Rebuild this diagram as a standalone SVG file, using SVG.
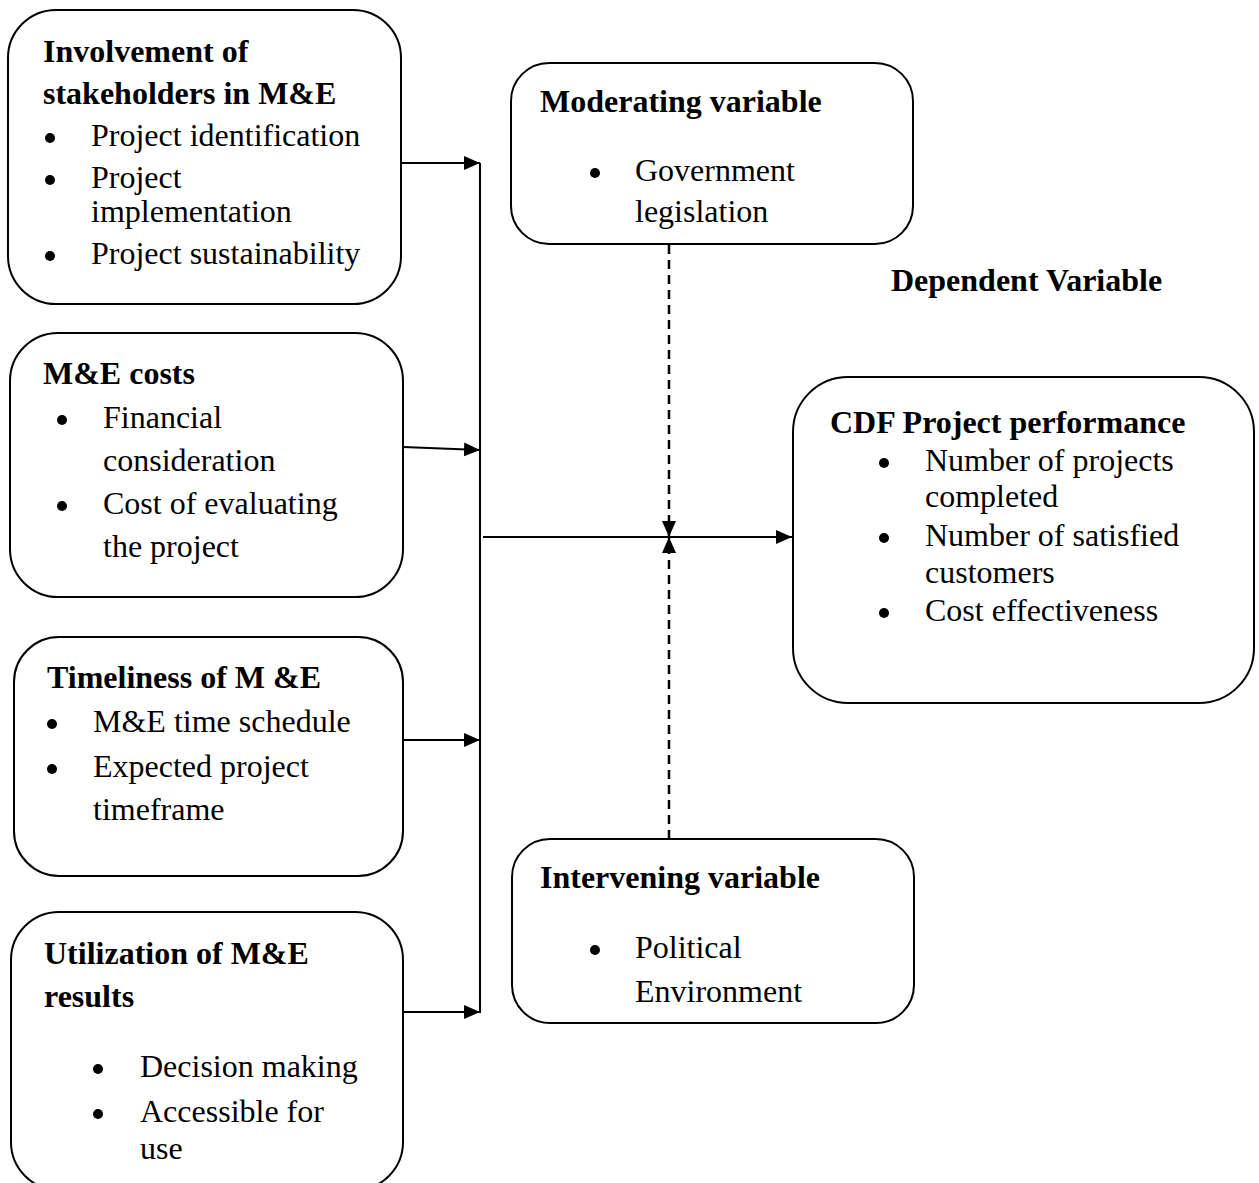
<svg xmlns="http://www.w3.org/2000/svg" width="1259" height="1183" viewBox="0 0 1259 1183">
<style>
.box{fill:#fff;stroke:#000;stroke-width:2}
text{font-family:"Liberation Serif","Times New Roman",serif;font-size:32px;fill:#000}
.b{font-weight:bold}
.line{stroke:#000;stroke-width:2;fill:none}
.dash{stroke:#000;stroke-width:2.5;fill:none;stroke-dasharray:9 6}
.dot{fill:#000}
</style>
<defs>
<marker id="ah" markerUnits="userSpaceOnUse" markerWidth="16" markerHeight="16" refX="16" refY="8" orient="auto">
<path d="M0,1 L16,8 L0,15 Z" fill="#000"/>
</marker>
</defs>
<rect width="1259" height="1183" fill="#fff"/>

<g id="connectors">
<line class="line" x1="401" y1="163" x2="480" y2="163" marker-end="url(#ah)"/>
<line class="line" x1="403" y1="447" x2="480" y2="450" marker-end="url(#ah)"/>
<line class="line" x1="403" y1="740" x2="480" y2="740" marker-end="url(#ah)"/>
<line class="line" x1="403" y1="1012" x2="480" y2="1012" marker-end="url(#ah)"/>
<line class="line" x1="480" y1="163" x2="480" y2="1013"/>
<line class="line" x1="483" y1="537" x2="792" y2="537" marker-end="url(#ah)"/>
<line class="dash" x1="669" y1="245" x2="669" y2="537" marker-end="url(#ah)"/>
<line class="dash" x1="669" y1="839" x2="669" y2="537" marker-end="url(#ah)"/>
</g>

<g id="involvement">
<rect class="box" x="8" y="10" width="393" height="294" rx="48"/>
<text class="b" x="43" y="62">Involvement of</text>
<text class="b" x="43" y="104">stakeholders in M&amp;E</text>
<circle class="dot" cx="50" cy="138" r="5"/>
<text x="91" y="146">Project identification</text>
<circle class="dot" cx="50" cy="180" r="5"/>
<text x="91" y="188">Project</text>
<text x="91" y="222">implementation</text>
<circle class="dot" cx="50" cy="256" r="5"/>
<text x="91" y="264">Project sustainability</text>
</g>

<g id="costs">
<rect class="box" x="10" y="333" width="393" height="264" rx="48"/>
<text class="b" x="43" y="384">M&amp;E costs</text>
<circle class="dot" cx="62" cy="420" r="5"/>
<text x="103" y="428">Financial</text>
<text x="103" y="471">consideration</text>
<circle class="dot" cx="62" cy="506" r="5"/>
<text x="103" y="514">Cost of evaluating</text>
<text x="103" y="557">the project</text>
</g>

<g id="timeliness">
<rect class="box" x="14" y="637" width="389" height="239" rx="45"/>
<text class="b" x="47" y="688">Timeliness of M &amp;E</text>
<circle class="dot" cx="52" cy="724" r="5"/>
<text x="93" y="732">M&amp;E time schedule</text>
<circle class="dot" cx="52" cy="769" r="5"/>
<text x="93" y="777">Expected project</text>
<text x="93" y="820">timeframe</text>
</g>

<g id="utilization">
<rect class="box" x="11" y="912" width="392" height="278" rx="48"/>
<text class="b" x="44" y="964">Utilization of M&amp;E</text>
<text class="b" x="44" y="1007">results</text>
<circle class="dot" cx="98" cy="1069" r="5"/>
<text x="140" y="1077">Decision making</text>
<circle class="dot" cx="98" cy="1114" r="5"/>
<text x="140" y="1122">Accessible for</text>
<text x="140" y="1159">use</text>
</g>

<g id="moderating">
<rect class="box" x="511" y="63" width="402" height="181" rx="38"/>
<text class="b" x="540" y="112">Moderating variable</text>
<circle class="dot" cx="595" cy="173" r="5"/>
<text x="635" y="181">Government</text>
<text x="635" y="222">legislation</text>
</g>

<g id="dependent-label">
<text class="b" x="891" y="291">Dependent Variable</text>
</g>

<g id="cdf">
<rect class="box" x="793" y="377" width="461" height="326" rx="55"/>
<text class="b" x="830" y="433">CDF Project performance</text>
<circle class="dot" cx="884" cy="463" r="5"/>
<text x="925" y="471">Number of projects</text>
<text x="925" y="507">completed</text>
<circle class="dot" cx="884" cy="538" r="5"/>
<text x="925" y="546">Number of satisfied</text>
<text x="925" y="583">customers</text>
<circle class="dot" cx="884" cy="613" r="5"/>
<text x="925" y="621">Cost effectiveness</text>
</g>

<g id="intervening">
<rect class="box" x="512" y="839" width="402" height="184" rx="38"/>
<text class="b" x="540" y="888">Intervening variable</text>
<circle class="dot" cx="595" cy="950" r="5"/>
<text x="635" y="958">Political</text>
<text x="635" y="1002">Environment</text>
</g>
</svg>
